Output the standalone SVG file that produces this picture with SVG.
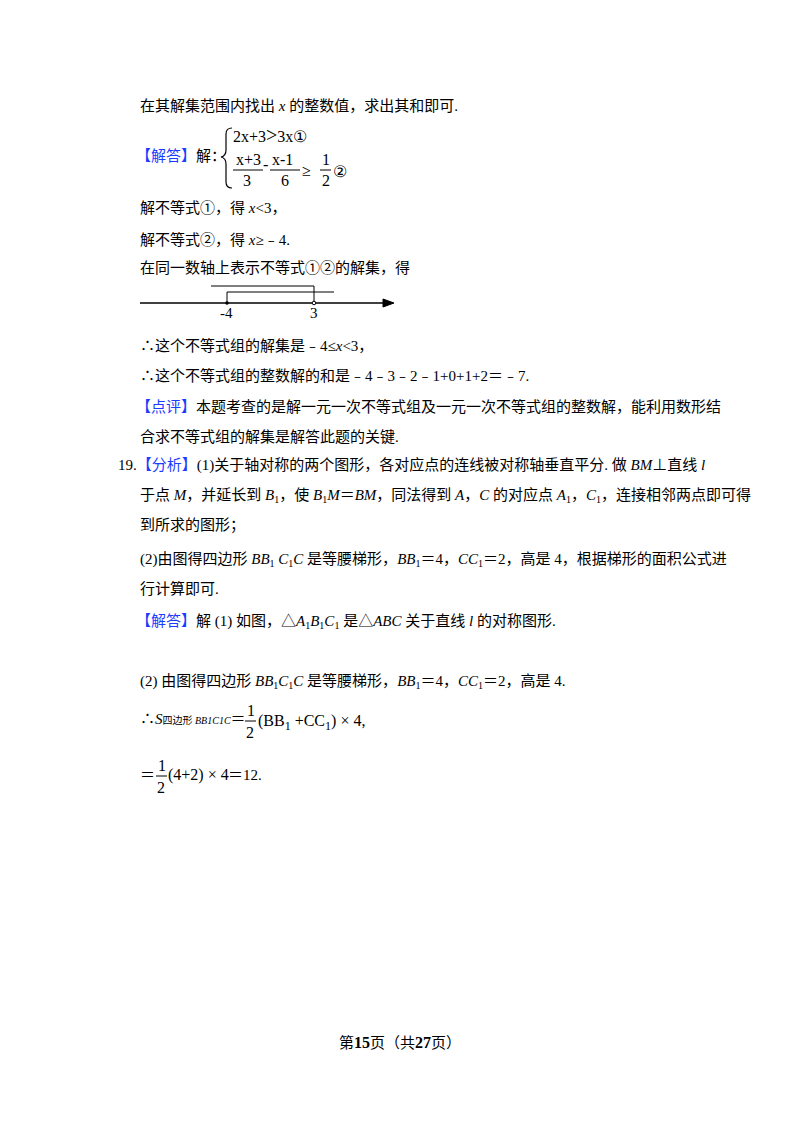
<svg xmlns="http://www.w3.org/2000/svg" width="800" height="1132" viewBox="0 0 800 1132">
<style>
text{font-family:"Liberation Serif","Noto Sans CJK SC",serif;font-size:15px;fill:#000}
.b{fill:#1a3cff}
.m{font-family:"Liberation Serif",serif;font-size:16px}
.s{font-size:10px}
line,path{stroke:#000;fill:none}
path.f{fill:#000}
</style>
<rect width="800" height="1132" fill="#fff"/>
<text x="140" y="111">在其解集范围内找出 <tspan font-style="italic">x</tspan> 的整数值，求出其和即可.</text>
<text x="136" y="161"><tspan class="b">【解答】</tspan>解：</text>
<path d="M232,128 Q226,128 226,134 L226,150 Q226,156 221,157 Q226,158 226,164 L226,182 Q226,188 232,188" stroke-width="1.2"/>
<text class="m" x="233" y="142">2x+3<tspan font-size="20">&gt;</tspan>3x①</text>
<text class="m" x="236" y="165">x+3</text>
<line x1="233" y1="170" x2="263" y2="170"/>
<text class="m" x="243" y="186">3</text>
<text class="m" x="263" y="170">-</text>
<text class="m" x="272" y="165">x-1</text>
<line x1="270" y1="170" x2="300" y2="170"/>
<text class="m" x="281" y="186">6</text>
<text class="m" x="302" y="176" font-size="20">≥</text>
<text class="m" x="322" y="165">1</text>
<line x1="320" y1="170" x2="331" y2="170"/>
<text class="m" x="322" y="186">2</text>
<text class="m" x="333" y="177">②</text>
<text x="140" y="213">解不等式①，得 <tspan font-style="italic">x</tspan>&lt;3，</text>
<text x="140" y="245">解不等式②，得 <tspan font-style="italic">x</tspan>≥﹣4.</text>
<text x="140" y="273">在同一数轴上表示不等式①②的解集，得</text>
<g id="numberline">
<line x1="140" y1="303" x2="388" y2="303" stroke-width="1.5"/>
<path class="f" d="M383,299 L394,303 L383,307 Z"/>
<path d="M211,286 L314,286 L314,303"/>
<path d="M227,303 L227,292 L334,292"/>
<circle cx="227" cy="303" r="1.8" fill="#000"/>
<circle cx="314" cy="303" r="1.8" fill="#fff" stroke="#000"/>
<text x="220" y="318" font-size="13">-4</text>
<text x="310" y="318" font-size="13">3</text>
</g>
<text x="140" y="351">∴这个不等式组的解集是﹣4≤<tspan font-style="italic">x</tspan>&lt;3，</text>
<text x="140" y="381">∴这个不等式组的整数解的和是﹣4﹣3﹣2﹣1+0+1+2＝﹣7.</text>
<text x="136" y="412"><tspan class="b">【点评】</tspan>本题考查的是解一元一次不等式组及一元一次不等式组的整数解，能利用数形结</text>
<text x="140" y="442">合求不等式组的解集是解答此题的关键.</text>
<text x="118" y="470">19.<tspan class="b">【分析】</tspan>(1)关于轴对称的两个图形，各对应点的连线被对称轴垂直平分. 做 <tspan font-style="italic">BM</tspan>⊥直线 <tspan font-style="italic">l</tspan></text>
<text x="140" y="500">于点 <tspan font-style="italic">M</tspan>，并延长到 <tspan font-style="italic">B</tspan><tspan class="s" dy="3">1</tspan><tspan dy="-3">，使 </tspan><tspan font-style="italic">B</tspan><tspan class="s" dy="3">1</tspan><tspan dy="-3" font-style="italic">M</tspan>＝<tspan font-style="italic">BM</tspan>，同法得到 <tspan font-style="italic">A</tspan>，<tspan font-style="italic">C</tspan> 的对应点 <tspan font-style="italic">A</tspan><tspan class="s" dy="3">1</tspan><tspan dy="-3">，</tspan><tspan font-style="italic">C</tspan><tspan class="s" dy="3">1</tspan><tspan dy="-3">，连接相邻两点即可得</tspan></text>
<text x="140" y="530">到所求的图形；</text>
<text x="140" y="564">(2)由图得四边形 <tspan font-style="italic">BB</tspan><tspan class="s" dy="3">1</tspan><tspan dy="-3" font-style="italic"> C</tspan><tspan class="s" dy="3">1</tspan><tspan dy="-3" font-style="italic">C</tspan> 是等腰梯形，<tspan font-style="italic">BB</tspan><tspan class="s" dy="3">1</tspan><tspan dy="-3">＝4，</tspan><tspan font-style="italic">CC</tspan><tspan class="s" dy="3">1</tspan><tspan dy="-3">＝2，高是 4，根据梯形的面积公式进</tspan></text>
<text x="140" y="594">行计算即可.</text>
<text x="136" y="626"><tspan class="b">【解答】</tspan>解 (1) 如图，△<tspan font-style="italic">A</tspan><tspan class="s" dy="3">1</tspan><tspan dy="-3" font-style="italic">B</tspan><tspan class="s" dy="3">1</tspan><tspan dy="-3" font-style="italic">C</tspan><tspan class="s" dy="3">1</tspan><tspan dy="-3"> 是△</tspan><tspan font-style="italic">ABC</tspan> 关于直线 <tspan font-style="italic">l</tspan> 的对称图形.</text>
<text x="140" y="686">(2) 由图得四边形 <tspan font-style="italic">BB</tspan><tspan class="s" dy="3">1</tspan><tspan dy="-3" font-style="italic">C</tspan><tspan class="s" dy="3">1</tspan><tspan dy="-3" font-style="italic">C</tspan> 是等腰梯形，<tspan font-style="italic">BB</tspan><tspan class="s" dy="3">1</tspan><tspan dy="-3">＝4，</tspan><tspan font-style="italic">CC</tspan><tspan class="s" dy="3">1</tspan><tspan dy="-3">＝2，高是 4.</tspan></text>
<text x="140" y="724">∴<tspan font-style="italic">S</tspan><tspan font-size="10">四边形</tspan><tspan font-size="10" font-style="italic"> BB1C1C</tspan>＝</text>
<text class="m" x="247" y="716">1</text>
<line x1="245" y1="721" x2="256" y2="721"/>
<text class="m" x="246" y="738">2</text>
<text class="m" x="258" y="726">(BB<tspan font-size="12" dy="4">1</tspan><tspan dy="-4"> +CC</tspan><tspan font-size="12" dy="4">1</tspan><tspan dy="-4">) × 4,</tspan></text>
<text x="140" y="780">＝</text>
<text class="m" x="158" y="771">1</text>
<line x1="156" y1="776" x2="167" y2="776"/>
<text class="m" x="157" y="793">2</text>
<text class="m" x="168" y="780">(4+2) × 4</text>
<text x="228" y="780">＝12.</text>
<text x="400" y="1048" text-anchor="middle" font-size="13">第<tspan font-weight="bold" font-size="16">15</tspan>页（共<tspan font-weight="bold" font-size="16">27</tspan>页）</text>
</svg>
